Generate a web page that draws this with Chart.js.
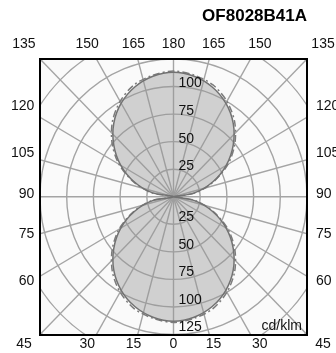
<!DOCTYPE html>
<html>
<head>
<meta charset="utf-8">
<script src="https://cdn.jsdelivr.net/npm/chart.js@4.4.1/dist/chart.umd.min.js"></script>
<style>
  html, body { margin: 0; padding: 0; background: #fff; }
  #wrap { width: 336px; height: 353px; }
</style>
</head>
<body>
<div id="wrap"><canvas id="polar"></canvas></div>
<script>
// OF8028B41A - light distribution curve, cd/klm

// gamma angles (0 = straight down, 180 = straight up)
const gammaAngles = [0, 10, 20, 30, 40, 50, 60, 70, 80, 90, 100, 110, 120, 130, 140, 150, 160, 170, 180];
// C0 / C180 plane (solid)
const planeC0 = [113, 111, 106, 98, 87, 73, 57, 39, 20, 0, 20, 39, 57, 73, 87, 98, 106, 111, 113];
// C90 / C270 plane (dash-dot)
const planeC90 = [114, 112, 108, 100, 89, 75, 59, 40, 21, 0, 21, 40, 59, 75, 89, 100, 108, 112, 114];

const chartTitle = 'OF8028B41A';
const unitLabel = 'cd/klm';
const ringValues = [25, 50, 75, 100, 125, 150, 175];
const ringLabelsUp = [25, 50, 75, 100];
const ringLabelsDown = [25, 50, 75, 100, 125];
const topLabels = ['135', '150', '165', '180', '165', '150', '135'];
const bottomLabels = ['45', '30', '15', '0', '15', '30', '45'];
const sideLabels = ['120', '105', '90', '75', '60'];

Chart.defaults.font.family = "'Liberation Sans', Arial, sans-serif";
Chart.defaults.color = '#111';

const rad = d => d * Math.PI / 180;

// angle labels sit where the 15 degree spokes would cross the label rows
const colAngles = bottomLabels.map((l, i) => i < 3 ? -Number(l) : Number(l));
const rowAngles = sideLabels.map(l => Number(l) - 90);
const reachX = 140;
const reachY = 137;

function toXY(gamma, value, side) {
  return { x: side * value * Math.sin(rad(gamma)), y: -value * Math.cos(rad(gamma)) };
}

// closed path: upper lobe right -> left, lower lobe left -> right
function lobePath(values) {
  const pts = [];
  for (let i = 9; i <= 18; i++) pts.push(toXY(gammaAngles[i], values[i], 1));
  for (let i = 17; i >= 9; i--) pts.push(toXY(gammaAngles[i], values[i], -1));
  for (let i = 8; i >= 0; i--) pts.push(toXY(gammaAngles[i], values[i], -1));
  for (let i = 1; i <= 9; i++) pts.push(toXY(gammaAngles[i], values[i], 1));
  return pts;
}

const tickFont = { size: 14 };
const borderOpts = { display: true, color: '#000', width: 2, z: 1 };
const noGrid = { display: false, drawTicks: false };

function colTicks(scale) {
  scale.ticks = colAngles.map(a => ({ value: reachX * Math.tan(rad(a)) }));
}
function rowTicks(scale) {
  scale.ticks = rowAngles.map(a => ({ value: reachY * Math.tan(rad(a)) }));
}

const polarGrid = {
  id: 'polarGrid',
  beforeDraw(chart) {
    const { ctx, chartArea: a } = chart;
    ctx.save();
    ctx.fillStyle = '#fafafa';
    ctx.fillRect(a.left, a.top, a.width, a.height);
    ctx.restore();
  },
  beforeDatasetsDraw(chart) {
    const { ctx, chartArea: a, scales: { x, y } } = chart;
    const cx = x.getPixelForValue(0);
    const cy = y.getPixelForValue(0);
    const kx = x.getPixelForValue(1) - cx;
    const ky = cy - y.getPixelForValue(1);
    ctx.save();
    ctx.beginPath();
    ctx.rect(a.left, a.top, a.width, a.height);
    ctx.clip();
    ctx.strokeStyle = '#a4a4a4';
    ctx.lineWidth = 1.4;
    ringValues.forEach(r => {
      ctx.beginPath();
      ctx.ellipse(cx, cy, r * kx, r * ky, 0, 0, 2 * Math.PI);
      ctx.stroke();
    });
    for (let d = 0; d < 360; d += 15) {
      ctx.beginPath();
      ctx.moveTo(cx, cy);
      ctx.lineTo(x.getPixelForValue(220 * Math.sin(rad(d))), y.getPixelForValue(220 * Math.cos(rad(d))));
      ctx.stroke();
    }
    ctx.restore();
  },
  afterDatasetsDraw(chart) {
    const { ctx, chartArea: a, scales: { x, y } } = chart;
    const lx = x.getPixelForValue(0) + 5;
    ctx.save();
    ctx.font = "14px 'Liberation Sans', Arial, sans-serif";
    ctx.fillStyle = '#111';
    ctx.textAlign = 'left';
    ctx.textBaseline = 'middle';
    ringLabelsUp.forEach(v => ctx.fillText(String(v), lx, y.getPixelForValue(v) - 3));
    ringLabelsDown.forEach(v => ctx.fillText(String(v), lx, y.getPixelForValue(-v) - 7));
    ctx.textAlign = 'right';
    ctx.fillText(unitLabel, a.right - 5, a.bottom - 8);
    ctx.restore();
  }
};

new Chart(document.getElementById('polar'), {
  type: 'scatter',
  data: {
    datasets: [
      {
        label: 'C0-C180',
        data: lobePath(planeC0),
        showLine: true,
        tension: 0.3,
        pointRadius: 0,
        borderColor: '#727272',
        borderWidth: 1.5,
        backgroundColor: 'rgba(150,150,150,0.42)',
        fill: 'shape'
      },
      {
        label: 'C90-C270',
        data: lobePath(planeC90),
        showLine: true,
        tension: 0.3,
        pointRadius: 0,
        borderColor: '#7c7c7c',
        borderWidth: 1.5,
        borderDash: [7, 3, 2, 3],
        fill: false
      }
    ]
  },
  options: {
    responsive: true,
    maintainAspectRatio: false,
    animation: false,
    layout: { padding: 0 },
    plugins: {
      legend: { display: false },
      tooltip: { enabled: false },
      title: {
        display: true,
        text: chartTitle,
        align: 'end',
        fullSize: false,
        color: '#000',
        font: { size: 17, weight: 'bold' },
        padding: { top: 6, bottom: 9 }
      }
    },
    scales: {
      x: {
        type: 'linear', position: 'bottom', min: -125, max: 125,
        afterBuildTicks: colTicks,
        ticks: { autoSkip: false, maxRotation: 0, padding: 1, font: tickFont, color: '#111',
                 callback: (v, i) => bottomLabels[i] },
        grid: noGrid, border: borderOpts,
        afterFit: s => { s.height = 18.5; s.paddingLeft = 0; s.paddingRight = 0; }
      },
      x2: {
        type: 'linear', position: 'top', min: -125, max: 125,
        afterBuildTicks: colTicks,
        ticks: { autoSkip: false, maxRotation: 0, padding: 6.6, font: tickFont, color: '#111',
                 callback: (v, i) => topLabels[i] },
        grid: noGrid, border: borderOpts,
        afterFit: s => { s.height = 23.6; s.paddingLeft = 0; s.paddingRight = 0; }
      },
      y: {
        type: 'linear', position: 'left', min: -125, max: 125,
        afterBuildTicks: rowTicks,
        ticks: { autoSkip: false, padding: 5.7, labelOffset: -3, font: tickFont, color: '#111',
                 callback: (v, i) => sideLabels[i] },
        grid: noGrid, border: borderOpts,
        afterFit: s => { s.width = 40; s.paddingTop = 0; s.paddingBottom = 0; }
      },
      y2: {
        type: 'linear', position: 'right', min: -125, max: 125,
        afterBuildTicks: rowTicks,
        ticks: { autoSkip: false, padding: 9, labelOffset: -3, font: tickFont, color: '#111',
                 callback: (v, i) => sideLabels[i] },
        grid: noGrid, border: borderOpts,
        afterFit: s => { s.width = 29; s.paddingTop = 0; s.paddingBottom = 0; }
      }
    }
  },
  plugins: [polarGrid]
});
</script>
</body>
</html>
